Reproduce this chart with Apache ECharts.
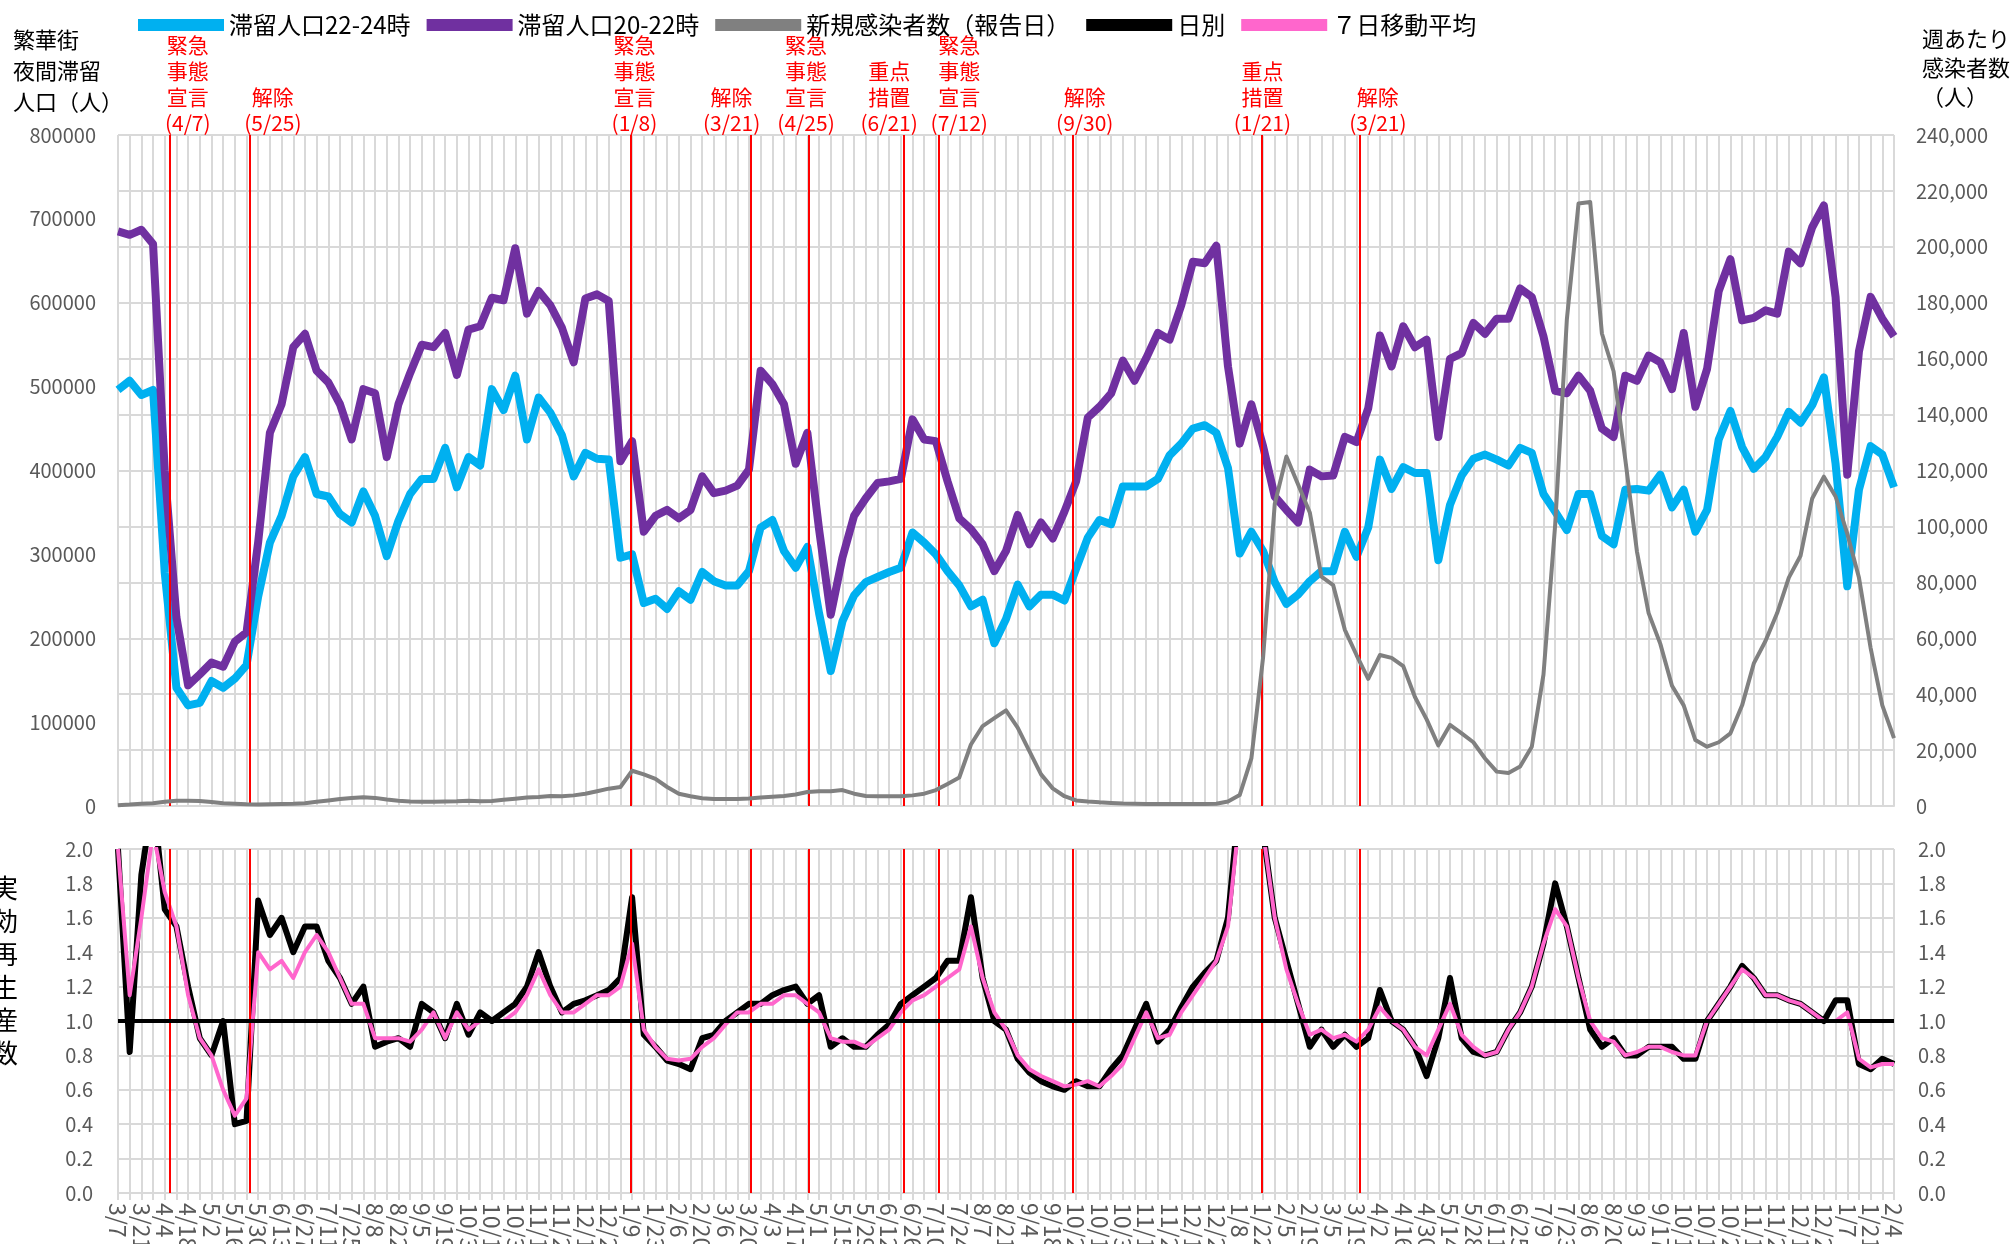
<!DOCTYPE html>
<html>
<head>
<meta charset="utf-8">
<script src="https://cdn.jsdelivr.net/npm/echarts@6/dist/echarts.min.js"></script>
<style>
html, body { margin: 0; padding: 0; background: #fff; }
#chart { width: 2016px; height: 1244px; }
</style>
</head>
<body>
<div id="chart"></div>
<script>
// x軸ラベル (2週間ごと, 2020/3/7 〜 2023/2/4)
const weekLabels = ['3/7','3/21','4/4','4/18','5/2','5/16','5/30','6/13','6/27','7/11','7/25','8/8','8/22','9/5','9/19','10/3','10/17','10/31','11/14','11/28','12/12','12/26',
  '1/9','1/23','2/6','2/20','3/6','3/20','4/3','4/17','5/1','5/15','5/29','6/12','6/26','7/10','7/24','8/7','8/21','9/4','9/18','10/2','10/16','10/30','11/13','11/27','12/11','12/25',
  '1/8','1/22','2/5','2/19','3/5','3/19','4/2','4/16','4/30','5/14','5/28','6/11','6/25','7/9','7/23','8/6','8/20','9/3','9/17','10/1','10/15','10/29','11/12','11/26','12/10','12/24',
  '1/7','1/21','2/4'];

// 週ごとの値 (7日間隔)
const stay2224 = [496000,507000,490000,496000,278000,141000,120000,123000,149000,141000,
  152000,168000,250000,314000,346000,393000,416000,372000,369000,348000,
  338000,375000,346000,298000,340000,372000,390000,390000,427000,380000,
  416000,406000,497000,472000,513000,437000,487000,469000,442000,393000,
  421000,414000,413000,296000,300000,242000,247000,235000,256000,246000,
  279000,268000,263000,263000,280000,332000,341000,304000,284000,309000,
  230000,161000,220000,251000,267000,273000,279000,284000,326000,314000,
  300000,280000,263000,238000,246000,194000,223000,264000,238000,252000,
  252000,245000,283000,320000,341000,336000,381000,381000,381000,390000,
  418000,432000,450000,454000,445000,403000,301000,327000,304000,267000,
  241000,252000,268000,280000,280000,327000,297000,332000,413000,378000,
  404000,397000,397000,293000,359000,394000,414000,419000,413000,406000,
  427000,421000,372000,351000,329000,372000,372000,322000,312000,377000,
  378000,376000,395000,356000,377000,327000,353000,437000,471000,428000,
  402000,416000,440000,470000,457000,478000,511000,408000,262000,377000,
  429000,419000,380000];

const stay2022 = [685000,681000,687000,670000,400000,225000,144000,157000,171000,166000,
  196000,207000,315000,445000,479000,547000,563000,519000,505000,479000,
  437000,497000,492000,416000,479000,516000,550000,547000,564000,514000,
  568000,572000,606000,603000,665000,587000,614000,597000,570000,529000,
  605000,610000,602000,411000,435000,327000,346000,353000,343000,353000,
  393000,373000,376000,382000,401000,519000,503000,479000,408000,445000,
  330000,228000,296000,346000,367000,385000,387000,390000,461000,437000,
  435000,387000,343000,330000,312000,280000,304000,347000,312000,338000,
  319000,351000,387000,463000,476000,492000,531000,507000,534000,564000,
  556000,597000,649000,647000,668000,524000,432000,479000,429000,369000,
  353000,338000,401000,393000,394000,440000,434000,474000,561000,524000,
  572000,547000,556000,440000,533000,540000,576000,563000,581000,581000,
  617000,607000,560000,495000,492000,513000,495000,450000,440000,513000,
  507000,537000,529000,497000,564000,476000,521000,614000,652000,579000,
  582000,591000,587000,661000,647000,690000,716000,607000,395000,542000,
  607000,581000,560000];

const newCases = [300,500,800,1000,1500,1900,1900,1800,1400,1000,
  800,600,500,600,700,800,1000,1500,2000,2500,
  2900,3100,2900,2300,1900,1600,1500,1500,1600,1700,
  1900,1700,1800,2200,2600,3000,3200,3600,3500,3800,
  4400,5300,6200,6800,12600,11300,9700,6800,4400,3500,
  2800,2500,2500,2500,2700,3000,3300,3600,4100,5000,
  5300,5300,5700,4400,3600,3500,3500,3500,3800,4400,
  5700,7900,10200,22000,28600,31400,34200,28000,19600,11300,
  6300,3500,2000,1600,1300,1100,900,800,700,700,
  700,700,700,700,800,1600,3900,17000,53000,108000,
  125000,115000,105000,82000,79000,63000,54000,45500,54000,53000,
  50000,39000,31000,21700,29000,26000,22800,17000,12300,11800,
  14100,21200,47000,100500,174000,215500,216000,169000,155500,124000,
  91000,69000,58000,43000,36000,23600,21200,22800,26000,36000,
  51000,59000,69000,81700,89500,110000,117800,110700,97400,81700,
  56500,36000,24300];

// 実効再生産数 (週ごとの読み取り値)
const rtDaily = [2.0,0.82,1.85,2.3,1.65,1.55,1.2,0.9,0.8,1.0,
  0.4,0.42,1.7,1.5,1.6,1.4,1.55,1.55,1.35,1.25,
  1.1,1.2,0.85,0.88,0.9,0.85,1.1,1.05,0.9,1.1,
  0.92,1.05,1.0,1.05,1.1,1.2,1.4,1.2,1.05,1.1,
  1.12,1.15,1.18,1.25,1.72,0.92,0.85,0.77,0.75,0.72,
  0.9,0.92,1.0,1.05,1.1,1.1,1.15,1.18,1.2,1.1,
  1.15,0.85,0.9,0.85,0.85,0.92,0.98,1.1,1.15,1.2,
  1.25,1.35,1.35,1.72,1.25,1.0,0.95,0.78,0.7,0.65,
  0.62,0.6,0.65,0.62,0.62,0.72,0.8,0.95,1.1,0.88,
  0.95,1.08,1.2,1.28,1.35,1.6,2.3,2.3,2.1,1.6,
  1.35,1.1,0.85,0.95,0.85,0.92,0.85,0.9,1.18,1.0,
  0.95,0.85,0.68,0.9,1.25,0.9,0.82,0.8,0.82,0.95,
  1.05,1.2,1.45,1.8,1.55,1.25,0.95,0.85,0.9,0.8,
  0.8,0.85,0.85,0.85,0.78,0.78,1.0,1.1,1.2,1.32,
  1.25,1.15,1.15,1.12,1.1,1.05,1.0,1.12,1.12,0.75,
  0.72,0.78,0.75];

const rtAvg = [2.0,1.15,1.6,2.1,1.75,1.55,1.15,0.9,0.8,0.6,
  0.45,0.55,1.4,1.3,1.35,1.25,1.4,1.5,1.4,1.25,
  1.1,1.1,0.9,0.9,0.9,0.88,0.95,1.05,0.9,1.05,
  0.95,1.0,1.0,1.0,1.05,1.15,1.3,1.15,1.05,1.05,
  1.1,1.15,1.15,1.2,1.45,0.95,0.85,0.78,0.77,0.78,
  0.85,0.9,0.98,1.05,1.05,1.1,1.1,1.15,1.15,1.1,
  1.05,0.9,0.88,0.88,0.85,0.9,0.95,1.05,1.12,1.15,
  1.2,1.25,1.3,1.55,1.25,1.05,0.95,0.8,0.72,0.68,
  0.65,0.62,0.63,0.65,0.62,0.68,0.75,0.9,1.05,0.9,
  0.92,1.05,1.15,1.25,1.35,1.55,2.2,2.3,2.1,1.6,
  1.3,1.1,0.92,0.95,0.9,0.92,0.88,0.95,1.08,1.0,
  0.95,0.85,0.8,0.95,1.1,0.92,0.85,0.8,0.82,0.95,
  1.05,1.2,1.45,1.65,1.55,1.25,1.0,0.9,0.88,0.8,
  0.82,0.85,0.85,0.82,0.8,0.8,1.0,1.1,1.2,1.3,
  1.25,1.15,1.15,1.12,1.1,1.05,1.0,1.0,1.05,0.78,
  0.73,0.75,0.75];

// 宣言・措置 (2020/3/7からの日数)
const eventDays = [31, 79, 307, 379, 414, 471, 492, 572, 685, 744];
const eventLabels = ['緊急\n事態\n宣言\n(4/7)', '解除\n(5/25)', '緊急\n事態\n宣言\n(1/8)', '解除\n(3/21)', '緊急\n事態\n宣言\n(4/25)',
  '重点\n措置\n(6/21)', '緊急\n事態\n宣言\n(7/12)', '解除\n(9/30)', '重点\n措置\n(1/21)', '解除\n(3/21)'];
const eventShift = [18, 23, 4, -19, -3, -15, 20, 12, 1, 18];

const FONT = '"Noto Sans CJK JP", "Noto Sans", sans-serif';
const GRID_C = '#D9D9D9';
const LABEL_C = '#595959';

const toPairs = arr => arr.map((v, i) => [i * 7, v]);

const chart = echarts.init(document.getElementById('chart'));

const xCommon = {
    type: 'value',
    min: 0,
    max: 1064,
    interval: 7,
    axisLine: { lineStyle: { color: GRID_C, width: 2 } },
    splitLine: { show: true, lineStyle: { color: GRID_C, width: 2 } }
};

const option = {
    animation: false,
    textStyle: { fontFamily: FONT },
    legend: {
        top: 8,
        left: 133,
        itemWidth: 86,
        itemHeight: 12,
        itemGap: 16,
        textStyle: { fontSize: 24, color: '#000', fontFamily: FONT },
        data: [
            { name: '滞留人口22-24時', icon: 'rect' },
            { name: '滞留人口20-22時', icon: 'rect' },
            { name: '新規感染者数（報告日）', icon: 'rect' },
            { name: '日別', icon: 'rect' },
            { name: '７日移動平均', icon: 'rect' }
        ]
    },
    grid: [
        { left: 118, width: 1776, top: 135, height: 671, outerBoundsMode: 'none' },
        { left: 118, width: 1776, top: 849, height: 344, outerBoundsMode: 'none' }
    ],
    xAxis: [
        Object.assign({}, xCommon, {
            gridIndex: 0,
            axisTick: { show: false },
            axisLabel: { show: false }
        }),
        Object.assign({}, xCommon, {
            gridIndex: 1,
            axisTick: { show: true, length: 7, lineStyle: { color: GRID_C, width: 2 } },
            axisLabel: {
                rotate: -90,
                margin: 10,
                fontSize: 23,
                color: LABEL_C,
                formatter: function (v) {
                    return v % 14 === 0 ? weekLabels[v / 14] : '';
                }
            }
        })
    ],
    yAxis: [
        {
            gridIndex: 0, type: 'value', position: 'left', min: 0, max: 800000, interval: 100000,
            axisLine: { show: false }, axisTick: { show: false }, splitLine: { show: false },
            axisLabel: { fontSize: 20, color: LABEL_C, margin: 22, formatter: v => String(v) }
        },
        {
            gridIndex: 0, type: 'value', position: 'right', min: 0, max: 240000, interval: 20000,
            axisLine: { show: false }, axisTick: { show: false },
            splitLine: { show: true, lineStyle: { color: GRID_C, width: 2 } },
            axisLabel: {
                fontSize: 20, color: LABEL_C, margin: 22,
                formatter: v => v.toLocaleString('en-US')
            }
        },
        {
            gridIndex: 1, type: 'value', position: 'left', min: 0, max: 2, interval: 0.2,
            axisLine: { show: false }, axisTick: { show: false },
            splitLine: { show: true, lineStyle: { color: GRID_C, width: 2 } },
            axisLabel: { fontSize: 20, color: LABEL_C, margin: 25, formatter: v => v.toFixed(1) }
        },
        {
            gridIndex: 1, type: 'value', position: 'right', min: 0, max: 2, interval: 0.2,
            axisLine: { show: false }, axisTick: { show: false }, splitLine: { show: false },
            axisLabel: { fontSize: 20, color: LABEL_C, margin: 24, formatter: v => v.toFixed(1) }
        }
    ],
    series: [
        {
            name: 'events-top', type: 'line', xAxisIndex: 0, yAxisIndex: 0, data: [], z: 1,
            markLine: {
                silent: true, symbol: 'none', label: { show: false }, animation: false,
                lineStyle: { color: '#FF0000', width: 2, type: 'solid' },
                data: eventDays.map(d => ({ xAxis: d }))
            }
        },
        {
            name: '滞留人口22-24時', type: 'line', xAxisIndex: 0, yAxisIndex: 0, z: 3,
            showSymbol: false, data: toPairs(stay2224),
            itemStyle: { color: '#00B0F0' },
            lineStyle: { color: '#00B0F0', width: 8, join: 'round' }
        },
        {
            name: '滞留人口20-22時', type: 'line', xAxisIndex: 0, yAxisIndex: 0, z: 4,
            showSymbol: false, data: toPairs(stay2022),
            itemStyle: { color: '#7030A0' },
            lineStyle: { color: '#7030A0', width: 8, join: 'round' }
        },
        {
            name: '新規感染者数（報告日）', type: 'line', xAxisIndex: 0, yAxisIndex: 1, z: 5,
            showSymbol: false, data: toPairs(newCases),
            itemStyle: { color: '#808080' },
            lineStyle: { color: '#808080', width: 4, join: 'round' }
        },
        {
            name: 'events-bottom', type: 'line', xAxisIndex: 1, yAxisIndex: 2, data: [], z: 1,
            markLine: {
                silent: true, symbol: 'none', label: { show: false }, animation: false,
                lineStyle: { color: '#FF0000', width: 2, type: 'solid' },
                data: eventDays.map(d => ({ xAxis: d })).concat([
                    { yAxis: 1, lineStyle: { color: '#000', width: 4 } }
                ])
            }
        },
        {
            name: '日別', type: 'line', xAxisIndex: 1, yAxisIndex: 2, z: 3,
            showSymbol: false, data: toPairs(rtDaily),
            itemStyle: { color: '#000000' },
            lineStyle: { color: '#000000', width: 6, join: 'round' }
        },
        {
            name: '７日移動平均', type: 'line', xAxisIndex: 1, yAxisIndex: 2, z: 4,
            showSymbol: false, data: toPairs(rtAvg),
            itemStyle: { color: '#FF66CC' },
            lineStyle: { color: '#FF66CC', width: 4, join: 'round' }
        }
    ]
};

chart.setOption(option);

// 注記テキスト
const graphics = [
    {
        type: 'text', left: 13, top: 24,
        style: { text: '繁華街\n夜間滞留\n人口（人）', font: '22px ' + FONT, fill: '#000', lineHeight: 31 }
    },
    {
        type: 'text', right: 6, top: 24,
        style: { text: '週あたり\n感染者数\n（人）', font: '22px ' + FONT, fill: '#000', lineHeight: 29, align: 'right' }
    },
    {
        type: 'text', x: 5, y: 872,
        style: { text: '実\n効\n再\n生\n産\n数', font: '26px ' + FONT, fill: '#000', lineHeight: 33, align: 'center' }
    }
];
eventDays.forEach(function (d, i) {
    const px = chart.convertToPixel({ xAxisIndex: 0 }, d);
    graphics.push({
        type: 'text', x: px + eventShift[i], y: 136,
        style: {
            text: eventLabels[i], font: '21px ' + FONT, fill: '#FF0000',
            lineHeight: 26, align: 'center', verticalAlign: 'bottom'
        }
    });
});
chart.setOption({ graphic: graphics });

window.onresize = function () {
    chart.resize();
};
</script>
</body>
</html>
